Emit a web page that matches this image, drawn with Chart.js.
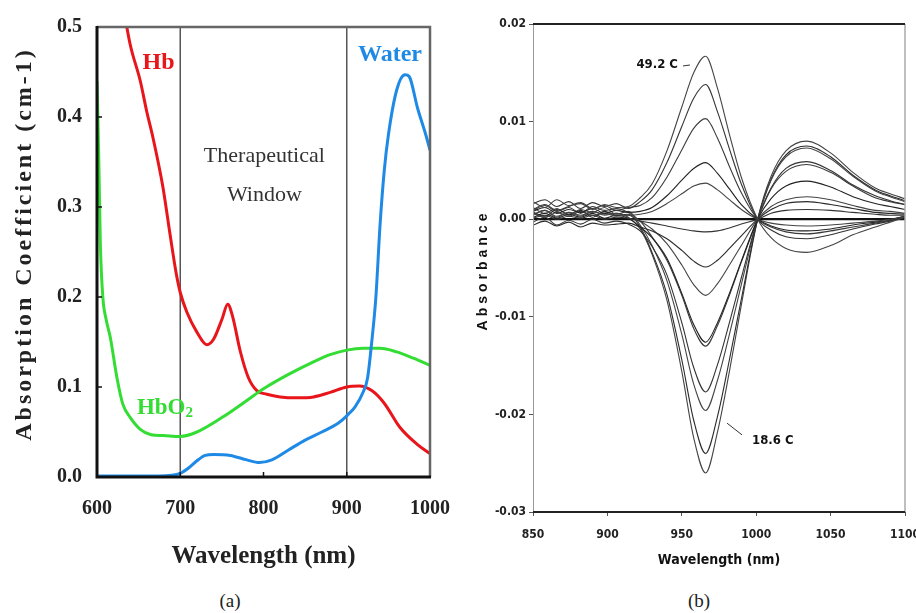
<!DOCTYPE html>
<html>
<head>
<meta charset="utf-8">
<script src="https://cdn.jsdelivr.net/npm/chart.js@4.4.1/dist/chart.umd.min.js"></script>
<style>
  html, body { margin: 0; padding: 0; background: #fff; }
  body { width: 916px; height: 613px; position: relative; overflow: hidden; }
  canvas { position: absolute; top: 0; }
  #panel-a { left: 0; }
  #panel-b { left: 460px; }
  .caption { position: absolute; top: 590px; font-family: 'Liberation Serif', 'Times New Roman', serif; font-size: 19px; color: #222; transform: translateX(-50%); }
</style>
</head>
<body>
<canvas id="panel-a" width="470" height="580"></canvas>
<canvas id="panel-b" width="476" height="580"></canvas>
<div class="caption" style="left:230px">(a)</div>
<div class="caption" style="left:699px">(b)</div>
<script>
// ---- panel (a): absorption coefficient (cm-1) vs wavelength (nm)
const hbWavelength = [630, 640, 652, 660, 667, 679, 688, 695, 700, 708, 720, 732, 740, 750, 757, 763, 772, 782, 792, 804, 820, 840, 860, 880, 900, 915, 930, 945, 964, 985, 1000];
const hbAbsorption = [0.53, 0.48, 0.44, 0.405, 0.378, 0.323, 0.268, 0.227, 0.205, 0.183, 0.161, 0.147, 0.153, 0.175, 0.192, 0.178, 0.14, 0.11, 0.096, 0.092, 0.089, 0.088, 0.089, 0.094, 0.100, 0.101, 0.096, 0.082, 0.055, 0.036, 0.026];

const hbo2Wavelength = [600, 602, 604, 607, 611, 616, 624, 631, 640, 652, 665, 680, 700, 720, 750, 780, 800, 830, 860, 880, 900, 920, 940, 960, 980, 1000];
const hbo2Absorption = [0.44, 0.36, 0.26, 0.2, 0.175, 0.155, 0.11, 0.081, 0.066, 0.053, 0.047, 0.046, 0.045, 0.05, 0.066, 0.085, 0.098, 0.114, 0.128, 0.136, 0.141, 0.143, 0.143, 0.139, 0.132, 0.124];

const waterWavelength = [600, 650, 690, 700, 710, 720, 730, 740, 760, 780, 795, 810, 830, 850, 870, 890, 900, 910, 920, 925, 930, 935, 940, 945, 950, 960, 970, 975, 985, 995, 1000];
const waterAbsorption = [0.001, 0.001, 0.002, 0.004, 0.01, 0.018, 0.024, 0.025, 0.024, 0.019, 0.016, 0.019, 0.03, 0.041, 0.05, 0.06, 0.068, 0.078, 0.095, 0.11, 0.15, 0.2, 0.28, 0.34, 0.38, 0.43, 0.447, 0.445, 0.41, 0.38, 0.363];

const windowEdges = [700, 900];
const xTicksA = [600, 700, 800, 900, 1000];

// ---- panel (b): temperature difference spectra, curve01 = 49.2 C ... curve14 = 18.6 C
const absWavelength = [850, 858, 866, 874, 882, 890, 898, 906, 914, 922, 930, 940, 950, 958, 966, 974, 982, 990, 1001, 1010, 1020, 1034, 1050, 1065, 1080, 1090, 1100];
const curve01 = [0.0018, 0.0012, 0.0020, 0.0014, 0.0016, 0.0010, 0.0015, 0.0012, 0.0013, 0.0022, 0.0036, 0.0070, 0.0115, 0.0150, 0.0167, 0.0134, 0.0087, 0.0043, 0.0000, -0.0019, -0.0030, -0.0034, -0.0027, -0.0016, -0.0008, -0.0003, 0.0002];
const curve02 = [0.0016, 0.0020, 0.0013, 0.0018, 0.0011, 0.0017, 0.0013, 0.0016, 0.0011, 0.0018, 0.0030, 0.0058, 0.0095, 0.0124, 0.0138, 0.0110, 0.0072, 0.0036, 0.0000, -0.0011, -0.0018, -0.0020, -0.0016, -0.0010, -0.0005, -0.0002, 0.0002];
const curve03 = [0.0010, 0.0015, 0.0009, 0.0013, 0.0017, 0.0011, 0.0014, 0.0009, 0.0012, 0.0014, 0.0022, 0.0043, 0.0071, 0.0093, 0.0103, 0.0083, 0.0054, 0.0027, 0.0000, -0.0008, -0.0013, -0.0015, -0.0012, -0.0008, -0.0004, -0.0001, 0.0003];
const curve04 = [0.0008, 0.0012, 0.0006, 0.0010, 0.0007, 0.0011, 0.0006, 0.0009, 0.0007, 0.0008, 0.0012, 0.0024, 0.0040, 0.0052, 0.0058, 0.0047, 0.0031, 0.0015, 0.0000, -0.0007, -0.0011, -0.0012, -0.0010, -0.0006, -0.0003, -0.0001, 0.0003];
const curve05 = [0.0005, 0.0009, 0.0003, 0.0007, 0.0004, 0.0008, 0.0005, 0.0006, 0.0004, 0.0005, 0.0008, 0.0016, 0.0026, 0.0034, 0.0037, 0.0030, 0.0020, 0.0010, 0.0000, -0.0004, -0.0006, -0.0007, -0.0006, -0.0004, -0.0002, 0.0000, 0.0003];
const curve06 = [0.0001, 0.0004, 0.0000, 0.0003, 0.0001, 0.0004, 0.0000, 0.0002, 0.0001, -0.0002, -0.0004, -0.0007, -0.0010, -0.0012, -0.0013, -0.0012, -0.0009, -0.0005, 0.0000, 0.0006, 0.0009, 0.0010, 0.0009, 0.0007, 0.0005, 0.0004, 0.0004];
const curve07 = [-0.0006, -0.0002, -0.0007, -0.0003, -0.0008, -0.0004, -0.0006, -0.0005, -0.0004, -0.0008, -0.0012, -0.0020, -0.0032, -0.0043, -0.0049, -0.0042, -0.0030, -0.0017, 0.0000, 0.0010, 0.0016, 0.0018, 0.0015, 0.0011, 0.0007, 0.0006, 0.0005];
const curve08 = [0.0006, 0.0002, 0.0007, 0.0003, 0.0008, 0.0004, 0.0006, 0.0003, 0.0004, -0.0002, -0.0010, -0.0025, -0.0047, -0.0067, -0.0078, -0.0066, -0.0047, -0.0027, 0.0000, 0.0013, 0.0020, 0.0023, 0.0020, 0.0014, 0.0009, 0.0008, 0.0006];
const curve09 = [0.0002, 0.0006, 0.0001, 0.0005, 0.0002, 0.0006, 0.0001, 0.0004, 0.0001, -0.0008, -0.0019, -0.0040, -0.0076, -0.0108, -0.0126, -0.0106, -0.0076, -0.0043, 0.0000, 0.0021, 0.0034, 0.0039, 0.0033, 0.0023, 0.0016, 0.0013, 0.0010];
const curve10 = [0.0009, 0.0014, 0.0008, 0.0012, 0.0006, 0.0013, 0.0009, 0.0011, 0.0007, -0.0002, -0.0018, -0.0042, -0.0078, -0.0112, -0.0130, -0.0109, -0.0078, -0.0044, 0.0000, 0.0031, 0.0049, 0.0056, 0.0048, 0.0034, 0.0022, 0.0018, 0.0015];
const curve11 = [-0.0003, 0.0002, -0.0006, -0.0001, -0.0005, 0.0000, -0.0004, -0.0002, -0.0005, -0.0012, -0.0028, -0.0057, -0.0106, -0.0152, -0.0177, -0.0149, -0.0106, -0.0060, 0.0000, 0.0032, 0.0052, 0.0059, 0.0050, 0.0035, 0.0024, 0.0019, 0.0015];
const curve12 = [0.0012, 0.0006, 0.0011, 0.0004, 0.0010, 0.0007, 0.0012, 0.0005, 0.0008, -0.0006, -0.0027, -0.0063, -0.0118, -0.0169, -0.0196, -0.0165, -0.0118, -0.0067, 0.0000, 0.0040, 0.0064, 0.0073, 0.0062, 0.0044, 0.0029, 0.0023, 0.0018];
const curve13 = [0.0007, 0.0003, 0.0010, 0.0005, 0.0009, 0.0002, 0.0008, 0.0004, 0.0005, -0.0008, -0.0034, -0.0077, -0.0144, -0.0206, -0.0240, -0.0202, -0.0144, -0.0082, 0.0000, 0.0041, 0.0066, 0.0075, 0.0064, 0.0045, 0.0030, 0.0024, 0.0019];
const curve14 = [0.0004, 0.0009, 0.0002, 0.0007, 0.0003, 0.0008, 0.0004, 0.0006, 0.0002, -0.0010, -0.0036, -0.0083, -0.0156, -0.0224, -0.0260, -0.0218, -0.0156, -0.0088, 0.0000, 0.0044, 0.0070, 0.0080, 0.0068, 0.0048, 0.0032, 0.0026, 0.0021];
const baselineWavelength = [850, 1100];
const baselineValues = [0, 0];

const serif = "'Liberation Serif', 'Times New Roman', serif";
const sans = "'Liberation Sans', Arial, sans-serif";
const narrow = "'DejaVu Sans Condensed', 'Liberation Sans Narrow', 'Arial Narrow', sans-serif";

function toPoints(xs, ys) {
    return xs.map((x, i) => ({ x: x, y: ys[i] }));
}

// ---------- panel (a) ----------
const panelADecor = {
    id: 'panelADecor',
    beforeDatasetsDraw(chart) {
        const { ctx, chartArea: a, scales: { x } } = chart;
        ctx.save();
        ctx.strokeStyle = '#555';
        ctx.lineWidth = 1.5;
        windowEdges.forEach(w => {
            const px = x.getPixelForValue(w);
            ctx.beginPath();
            ctx.moveTo(px, a.top);
            ctx.lineTo(px, a.bottom);
            ctx.stroke();
        });
        ctx.restore();
    },
    afterDraw(chart) {
        const { ctx, chartArea: a, scales: { x, y } } = chart;
        ctx.save();
        // frame
        ctx.strokeStyle = '#666';
        ctx.lineWidth = 2.5;
        ctx.beginPath();
        ctx.moveTo(a.left, a.top);
        ctx.lineTo(a.right, a.top);
        ctx.lineTo(a.right, a.bottom);
        ctx.stroke();
        ctx.strokeStyle = '#111';
        ctx.lineWidth = 3;
        ctx.beginPath();
        ctx.moveTo(a.left, a.top - 1);
        ctx.lineTo(a.left, a.bottom);
        ctx.lineTo(a.right + 1, a.bottom);
        ctx.stroke();
        // small inner ticks
        ctx.lineWidth = 1.5;
        [0.1, 0.2, 0.3, 0.4].forEach(v => {
            const py = y.getPixelForValue(v);
            ctx.beginPath(); ctx.moveTo(a.left, py); ctx.lineTo(a.left + 5, py); ctx.stroke();
        });
        xTicksA.slice(1, -1).forEach(v => {
            const px = x.getPixelForValue(v);
            ctx.beginPath(); ctx.moveTo(px, a.bottom); ctx.lineTo(px, a.bottom - 5); ctx.stroke();
        });

        // axis titles
        ctx.fillStyle = '#222';
        ctx.textAlign = 'center';
        ctx.textBaseline = 'middle';
        ctx.font = 'bold 25px ' + serif;
        ctx.fillText('Wavelength (nm)', (a.left + a.right) / 2, 557);
        ctx.save();
        ctx.translate(25, 244);
        ctx.rotate(-Math.PI / 2);
        ctx.font = 'bold 24px ' + serif;
        ctx.letterSpacing = '3px';
        ctx.fillText('Absorption Coefficient (cm-1)', 0, 0);
        ctx.restore();

        // curve labels
        ctx.font = 'bold 24px ' + serif;
        ctx.fillStyle = '#e8151b';
        ctx.fillText('Hb', x.getPixelForValue(674), y.getPixelForValue(0.46));
        ctx.fillStyle = '#1e8ae6';
        ctx.fillText('Water', x.getPixelForValue(952), y.getPixelForValue(0.469));
        ctx.fillStyle = '#33dd33';
        ctx.textAlign = 'left';
        ctx.font = 'bold 23px ' + serif;
        const hx = x.getPixelForValue(684) - 30;
        const hy = y.getPixelForValue(0.077);
        ctx.fillText('HbO', hx, hy);
        const w = ctx.measureText('HbO').width;
        ctx.font = 'bold 15px ' + serif;
        ctx.fillText('2', hx + w, hy + 5);

        ctx.fillStyle = '#333';
        ctx.textAlign = 'center';
        ctx.font = '22px ' + serif;
        ctx.fillText('Therapeutical', x.getPixelForValue(801), y.getPixelForValue(0.356));
        ctx.fillText('Window', x.getPixelForValue(801), y.getPixelForValue(0.313));
        ctx.restore();
    }
};

new Chart(document.getElementById('panel-a'), {
    type: 'line',
    data: {
        datasets: [
            { label: 'Water', data: toPoints(waterWavelength, waterAbsorption), borderColor: '#1e8ae6', borderWidth: 3, pointRadius: 0, cubicInterpolationMode: 'monotone' },
            { label: 'HbO2', data: toPoints(hbo2Wavelength, hbo2Absorption), borderColor: '#33dd33', borderWidth: 3, pointRadius: 0, cubicInterpolationMode: 'monotone' },
            { label: 'Hb', data: toPoints(hbWavelength, hbAbsorption), borderColor: '#e8151b', borderWidth: 3, pointRadius: 0, cubicInterpolationMode: 'monotone' }
        ]
    },
    options: {
        responsive: false,
        animation: false,
        layout: { padding: { top: 22, right: 40, left: 0, bottom: 0 } },
        plugins: { legend: { display: false }, tooltip: { enabled: false } },
        scales: {
            x: {
                type: 'linear', min: 600, max: 1000,
                afterBuildTicks(scale) { scale.ticks = xTicksA.map(v => ({ value: v })); },
                ticks: { callback: v => String(v), font: { family: serif, size: 20, weight: 'bold' }, color: '#222', padding: 20, maxRotation: 0 },
                grid: { display: false, drawTicks: false },
                border: { display: false },
                afterFit(scale) { scale.height = 103; }
            },
            y: {
                min: 0, max: 0.5,
                ticks: { stepSize: 0.1, callback: v => v.toFixed(1), font: { family: serif, size: 20, weight: 'bold' }, color: '#222', padding: 15 },
                grid: { display: false, drawTicks: false },
                border: { display: false },
                afterFit(scale) { scale.width = 97; }
            }
        }
    },
    plugins: [panelADecor]
});

// ---------- panel (b) ----------
const curvesB = [curve01, curve02, curve03, curve04, curve05, curve06, curve07, curve08, curve09, curve10, curve11, curve12, curve13, curve14];
const greysB = ['#444', '#333', '#3a3a3a', '#222', '#444', '#333', '#2a2a2a', '#444', '#222', '#3a3a3a', '#333', '#444', '#2a2a2a', '#444'];

const panelBDecor = {
    id: 'panelBDecor',
    afterDraw(chart) {
        const { ctx, chartArea: a, scales: { x, y } } = chart;
        ctx.save();
        ctx.strokeStyle = '#999';
        ctx.lineWidth = 1;
        ctx.beginPath(); ctx.moveTo(a.left + 0.5, a.top); ctx.lineTo(a.left + 0.5, a.bottom); ctx.stroke();
        ctx.strokeStyle = '#aaa';
        ctx.lineWidth = 1.5;
        ctx.beginPath(); ctx.moveTo(a.right, a.top); ctx.lineTo(a.right, a.bottom); ctx.stroke();
        ctx.strokeStyle = '#222';
        ctx.lineWidth = 2;
        ctx.beginPath(); ctx.moveTo(a.left, a.top); ctx.lineTo(a.right, a.top); ctx.stroke();
        ctx.beginPath(); ctx.moveTo(a.left, a.bottom); ctx.lineTo(a.right, a.bottom); ctx.stroke();

        ctx.fillStyle = '#111';
        ctx.textBaseline = 'middle';
        ctx.textAlign = 'center';
        ctx.font = 'bold 14px ' + narrow;
        ctx.fillText('Wavelength (nm)', (a.left + a.right) / 2, 560);
        ctx.save();
        ctx.translate(23, 270);
        ctx.rotate(-Math.PI / 2);
        ctx.font = 'bold 14px ' + sans;
        ctx.letterSpacing = '4px';
        ctx.fillText('Absorbance', 0, 0);
        ctx.restore();

        ctx.font = 'bold 13px ' + narrow;
        ctx.textAlign = 'right';
        ctx.fillText('49.2 C', x.getPixelForValue(947.4), y.getPixelForValue(0.0158));
        ctx.lineWidth = 1;
        ctx.strokeStyle = '#333';
        ctx.beginPath();
        ctx.moveTo(x.getPixelForValue(950.8), y.getPixelForValue(0.0157));
        ctx.lineTo(x.getPixelForValue(955.5), y.getPixelForValue(0.0158));
        ctx.stroke();
        ctx.textAlign = 'left';
        ctx.fillText('18.6 C', x.getPixelForValue(997.2), y.getPixelForValue(-0.02265));
        ctx.beginPath();
        ctx.moveTo(x.getPixelForValue(980.4), y.getPixelForValue(-0.0209));
        ctx.lineTo(x.getPixelForValue(990.5), y.getPixelForValue(-0.0221));
        ctx.stroke();
        ctx.restore();
    }
};

const datasetsB = curvesB.map((c, i) => ({
    data: toPoints(absWavelength, c),
    borderColor: greysB[i],
    borderWidth: 1.1,
    pointRadius: 0,
    cubicInterpolationMode: 'monotone'
}));
datasetsB.push({ data: toPoints(baselineWavelength, baselineValues), borderColor: '#111', borderWidth: 2.2, pointRadius: 0 });

new Chart(document.getElementById('panel-b'), {
    type: 'line',
    data: { datasets: datasetsB },
    options: {
        responsive: false,
        animation: false,
        layout: { padding: { top: 24, right: 31, left: 0, bottom: 0 } },
        plugins: { legend: { display: false }, tooltip: { enabled: false } },
        scales: {
            x: {
                type: 'linear', min: 850, max: 1100,
                ticks: { stepSize: 50, callback: v => String(v), font: { family: narrow, size: 12, weight: 'bold' }, color: '#222', padding: 12, maxRotation: 0 },
                grid: { drawOnChartArea: false, tickLength: 4, color: '#555' },
                border: { display: false },
                afterFit(scale) { scale.height = 68; }
            },
            y: {
                min: -0.03, max: 0.02,
                ticks: {
                    stepSize: 0.01,
                    callback: v => Math.abs(v) < 1e-9 ? '0.00' : v.toFixed(2),
                    font: { family: narrow, size: 12, weight: 'bold' }, color: '#222', padding: 3
                },
                grid: { drawOnChartArea: false, tickLength: 4, color: '#555' },
                border: { display: false },
                afterFit(scale) { scale.width = 73; }
            }
        }
    },
    plugins: [panelBDecor]
});
</script>
</body>
</html>
